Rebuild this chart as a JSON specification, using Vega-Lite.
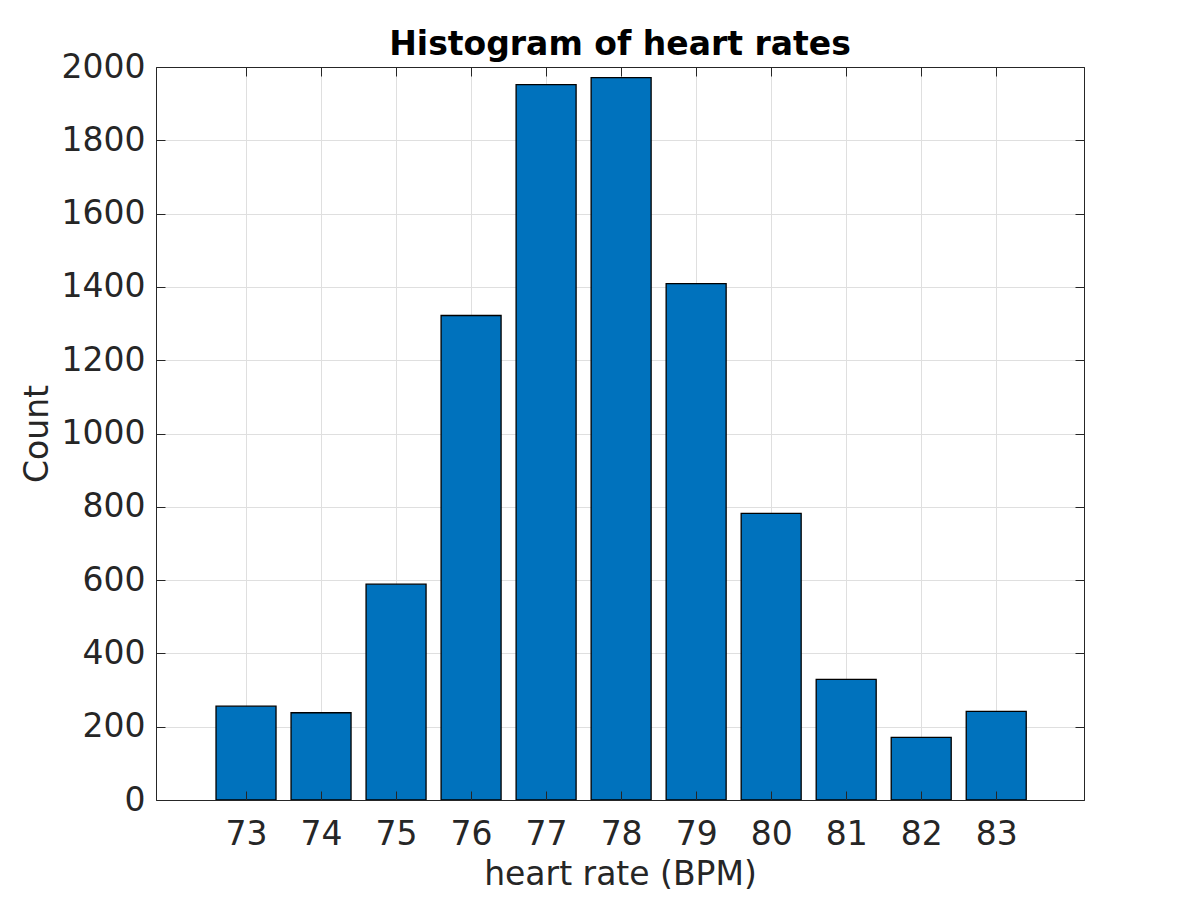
{
  "$schema": "https://vega.github.io/schema/vega-lite/v6.json",
  "width": 928,
  "height": 733,
  "autosize": "none",
  "padding": {"left": 156, "top": 67, "right": 116, "bottom": 100},
  "background": "white",
  "config": {
    "view": {"stroke": "#262626", "strokeWidth": 1},
    "font": "DejaVu Sans"
  },
  "title": {
    "text": "Histogram of heart rates",
    "font": "DejaVu Sans",
    "fontSize": 33,
    "fontWeight": "bold",
    "color": "#000000",
    "anchor": "middle",
    "frame": "group",
    "baseline": "alphabetic",
    "offset": 13,
    "dy": 50
  },
  "data": {
    "values": [
      {"bpm": 73, "count": 256},
      {"bpm": 74, "count": 238},
      {"bpm": 75, "count": 589},
      {"bpm": 76, "count": 1322},
      {"bpm": 77, "count": 1952},
      {"bpm": 78, "count": 1971},
      {"bpm": 79, "count": 1409},
      {"bpm": 80, "count": 782},
      {"bpm": 81, "count": 329},
      {"bpm": 82, "count": 171},
      {"bpm": 83, "count": 242}
    ]
  },
  "resolve": {"axis": {"x": "independent", "y": "independent"}},
  "layer": [
    {
      "mark": {"type": "bar", "size": 60, "color": "#0072BD", "stroke": "#000000", "strokeWidth": 1.3},
      "encoding": {
        "x": {
          "field": "bpm", "type": "quantitative",
          "scale": {"domain": [71.8, 84.17], "nice": false, "zero": false, "padding": 0},
          "axis": {
            "orient": "bottom", "values": [73,74,75,76,77,78,79,80,81,82,83],
            "grid": true, "gridColor": "#dfdfdf", "gridWidth": 1,
            "ticks": false, "domain": false, "zindex": 0, "format": "d",
            "labelFont": "DejaVu Sans", "labelFontSize": 33, "labelColor": "#262626",
            "labelBaseline": "alphabetic", "labelPadding": 44, "labelFlush": false,
            "title": "heart rate (BPM)", "titleFont": "DejaVu Sans", "titleFontSize": 33,
            "titleFontWeight": "normal", "titleColor": "#262626",
            "titleBaseline": "alphabetic", "titleY": 84
          }
        },
        "y": {
          "field": "count", "type": "quantitative",
          "scale": {"domain": [0, 2000], "nice": false, "padding": 0},
          "axis": {
            "orient": "left", "values": [0,200,400,600,800,1000,1200,1400,1600,1800,2000],
            "grid": true, "gridColor": "#dfdfdf", "gridWidth": 1,
            "ticks": false, "domain": false, "zindex": 0, "format": "d",
            "labelFont": "DejaVu Sans", "labelFontSize": 33, "labelColor": "#262626",
            "labelBaseline": "middle", "labelPadding": 11, "labelFlush": false,
            "title": "Count", "titleFont": "DejaVu Sans", "titleFontSize": 33,
            "titleFontWeight": "normal", "titleColor": "#262626",
            "titleBaseline": "alphabetic", "titleAngle": -90, "titleX": -109
          }
        }
      }
    },
    {
      "mark": {"type": "bar", "size": 60, "opacity": 0},
      "encoding": {
        "x": {
          "field": "bpm", "type": "quantitative",
          "axis": {
            "orient": "bottom", "values": [73,74,75,76,77,78,79,80,81,82,83],
            "grid": false, "labels": false, "title": null, "domain": true, "domainColor": "#262626",
            "ticks": true, "tickSize": -9, "tickColor": "#262626", "tickWidth": 1, "zindex": 1
          }
        },
        "y": {
          "field": "count", "type": "quantitative",
          "axis": {
            "orient": "left", "values": [0,200,400,600,800,1000,1200,1400,1600,1800,2000],
            "grid": false, "labels": false, "title": null, "domain": true, "domainColor": "#262626",
            "ticks": true, "tickSize": -9, "tickColor": "#262626", "tickWidth": 1, "zindex": 1
          }
        }
      }
    },
    {
      "mark": {"type": "bar", "size": 60, "opacity": 0},
      "encoding": {
        "x": {
          "field": "bpm", "type": "quantitative",
          "axis": {
            "orient": "top", "values": [73,74,75,76,77,78,79,80,81,82,83],
            "grid": false, "labels": false, "title": null, "domain": true, "domainColor": "#262626",
            "ticks": true, "tickSize": -9, "tickColor": "#262626", "tickWidth": 1, "zindex": 1
          }
        },
        "y": {
          "field": "count", "type": "quantitative",
          "axis": {
            "orient": "right", "values": [0,200,400,600,800,1000,1200,1400,1600,1800,2000],
            "grid": false, "labels": false, "title": null, "domain": true, "domainColor": "#262626",
            "ticks": true, "tickSize": -9, "tickColor": "#262626", "tickWidth": 1, "zindex": 1
          }
        }
      }
    }
  ]
}
